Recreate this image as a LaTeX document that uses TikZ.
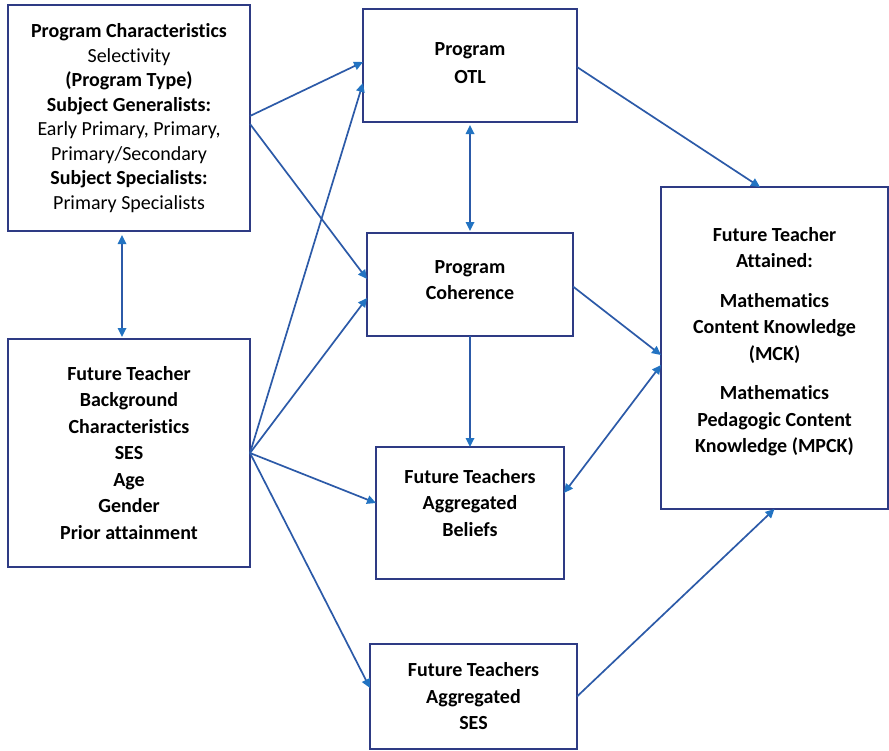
\documentclass[tikz,border=0pt]{standalone}
\usepackage{fontspec}
\setmainfont{Carlito}[Ligatures=NoCommon]
\usetikzlibrary{arrows.meta}
\definecolor{boxline}{HTML}{2E3B84}
\definecolor{arrline}{HTML}{2C5AA8}
\definecolor{arrhead}{HTML}{2273C2}
\tikzset{
  box/.style={draw=boxline, line width=1.4pt, rectangle, align=center, inner sep=0pt, outer sep=0pt,
    font=\fontsize{20}{26.5}\selectfont\bfseries, text=black},
  tip/.tip={Triangle[length=9pt,width=8.5pt,color=arrhead,fill=arrhead]},
  conn/.style={draw=arrline, line width=1.7pt, -tip},
  conn2/.style={draw=arrline, line width=1.7pt, tip-tip}
}
\begin{document}
\begin{tikzpicture}[x=1pt,y=-1pt]
\useasboundingbox (0,0) rectangle (889,750);
\fill[white] (0,0) rectangle (889,750);
\node[box, minimum width=242pt, minimum height=226pt, font=\fontsize{20}{24.5}\selectfont] (pc) at (129,118)
 {\textbf{Program Characteristics}\\ Selectivity\\ \textbf{(Program Type)}\\ \textbf{Subject Generalists:}\\ Early Primary, Primary,\\ Primary/Secondary\\ \textbf{Subject Specialists:}\\ Primary Specialists};
\node[box, minimum width=242pt, minimum height=228pt] (bg) at (129,453)
 {Future Teacher\\ Background\\ Characteristics\\ SES\\ Age\\ Gender\\ Prior attainment};
\node[box, minimum width=214pt, minimum height=113pt] (otl) at (470,65.5) {Program\\[1.5pt] OTL\\[-21pt]\mbox{}};
\node[box, minimum width=206pt, minimum height=103pt] (coh) at (470,284.5) {Program\\ Coherence\\[-18pt]\mbox{}};
\node[box, minimum width=188pt, minimum height=132pt] (bel) at (470,513) {Future Teachers\\ Aggregated\\ Beliefs\\[-6pt]\mbox{}};
\node[box, minimum width=207pt, minimum height=105pt] (ses) at (473.5,696.5) {Future Teachers\\ Aggregated\\ SES};
\node[box, minimum width=227pt, minimum height=322pt] (fta) at (774.5,348)
 {Future Teacher\\ Attained:\\[13pt] Mathematics\\ Content Knowledge\\ (MCK)\\[13pt] Mathematics\\ Pedagogic Content\\ Knowledge (MPCK)\\[-10pt]\mbox{}};
% connectors
\draw[conn2, shorten <=4pt, shorten >=2pt] ([xshift=-7pt]pc.south) -- ([xshift=-7pt]bg.north);
\draw[conn] ([yshift=2pt]pc.east) -- ([yshift=3.5pt]otl.west);
\draw[conn] ([yshift=-6pt]pc.east) -- ([yshift=5.5pt]coh.west);
\draw[conn] (bg.east) -- ([yshift=-17.5pt]otl.west);
\draw[conn] (bg.east) -- ([yshift=-13.5pt]coh.west);
\draw[conn] (bg.east) -- ([yshift=10pt]bel.west);
\draw[conn] (bg.east) -- ([yshift=8.5pt]ses.west);
\draw[conn2, shorten <=3pt, shorten >=2pt] (otl.south) -- (coh.north);
\draw[conn] (coh.south) -- (bel.north);
\draw[conn] ([yshift=-1.5pt]otl.east) -- ([xshift=-14.5pt]fta.north);
\draw[conn] ([yshift=-2pt]coh.east) -- ([yshift=-7pt]fta.west);
\draw[conn2] ([yshift=-17pt]fta.west) -- ([yshift=20pt]bel.east);
\draw[conn] (ses.east) -- (fta.south);
\end{tikzpicture}
\end{document}
